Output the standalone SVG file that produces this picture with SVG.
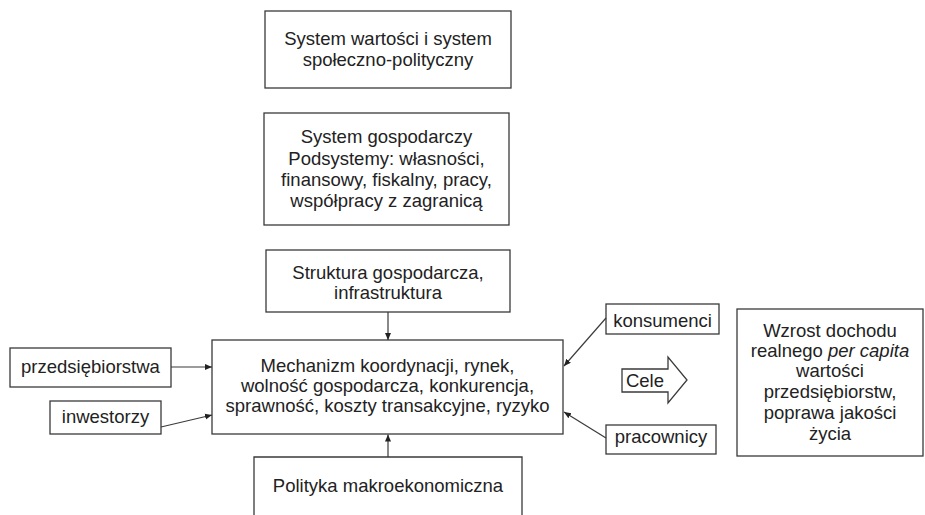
<svg xmlns="http://www.w3.org/2000/svg" width="925" height="515" viewBox="0 0 925 515">
<style>
.box{fill:#fff;stroke:#3a3a3a;stroke-width:1.3}
.t{font-family:"Liberation Sans",Arial,sans-serif;font-size:18.5px;fill:#222;text-anchor:middle}
.c{stroke:#3a3a3a;stroke-width:1.2;fill:none;marker-end:url(#ah)}
</style>
<defs>
<marker id="ah" markerWidth="8" markerHeight="8" refX="7" refY="4" orient="auto" markerUnits="userSpaceOnUse">
<path d="M0,1 L7,4 L0,7 Z" fill="#222"/>
</marker>
</defs>
<rect width="925" height="515" fill="#fff"/>
<g id="wartosci">
<rect class="box" x="265" y="11" width="246" height="77"/>
<text class="t" x="388" y="45">System wartości i system</text>
<text class="t" x="388" y="66">społeczno-polityczny</text>
</g>
<g id="gospodarczy">
<rect class="box" x="264" y="113" width="245" height="112"/>
<text class="t" x="386.5" y="143">System gospodarczy</text>
<text class="t" x="386.5" y="165">Podsystemy: własności,</text>
<text class="t" x="386.5" y="186">finansowy, fiskalny, pracy,</text>
<text class="t" x="386.5" y="207">współpracy z zagranicą</text>
</g>
<g id="struktura">
<rect class="box" x="266" y="250" width="244" height="62"/>
<text class="t" x="388" y="279">Struktura gospodarcza,</text>
<text class="t" x="388" y="299">infrastruktura</text>
</g>
<g id="mechanizm">
<rect class="box" x="212" y="340" width="351" height="94"/>
<text class="t" x="387.5" y="372">Mechanizm koordynacji, rynek,</text>
<text class="t" x="387.5" y="392">wolność gospodarcza, konkurencja,</text>
<text class="t" x="387.5" y="412">sprawność, koszty transakcyjne, ryzyko</text>
</g>
<g id="przedsiebiorstwa">
<rect class="box" x="10" y="348" width="161" height="39"/>
<text class="t" x="90.5" y="373">przedsiębiorstwa</text>
</g>
<g id="inwestorzy">
<rect class="box" x="50" y="401" width="111" height="33"/>
<text class="t" x="105.5" y="423">inwestorzy</text>
</g>
<g id="konsumenci">
<rect class="box" x="606" y="304" width="113" height="30"/>
<text class="t" x="662.5" y="327">konsumenci</text>
</g>
<g id="pracownicy">
<rect class="box" x="606" y="425" width="110" height="29"/>
<text class="t" x="661" y="443">pracownicy</text>
</g>
<g id="polityka">
<path class="box" d="M254,520 L254,457 L522,457 L522,520"/>
<text class="t" x="388" y="492">Polityka makroekonomiczna</text>
</g>
<g id="cele">
<polygon class="box" points="622,369 668,369 668,357 687,380 668,403 668,392 622,392"/>
<text class="t" x="645" y="387">Cele</text>
</g>
<g id="wzrost">
<rect class="box" x="737" y="309" width="186" height="147"/>
<text class="t" x="830" y="337">Wzrost dochodu</text>
<text class="t" x="830" y="357">realnego <tspan font-style="italic">per capita</tspan></text>
<text class="t" x="830" y="377">wartości</text>
<text class="t" x="830" y="398">przedsiębiorstw,</text>
<text class="t" x="830" y="419">poprawa jakości</text>
<text class="t" x="830" y="440">życia</text>
</g>
<g id="connectors">
<line class="c" x1="388" y1="312" x2="388" y2="340"/>
<line class="c" x1="388" y1="457" x2="388" y2="434.5"/>
<line class="c" x1="171" y1="367" x2="212" y2="367"/>
<line class="c" x1="161" y1="427" x2="212" y2="415"/>
<line class="c" x1="606" y1="318" x2="564" y2="366"/>
<line class="c" x1="606" y1="438" x2="564" y2="412"/>
</g>
</svg>
